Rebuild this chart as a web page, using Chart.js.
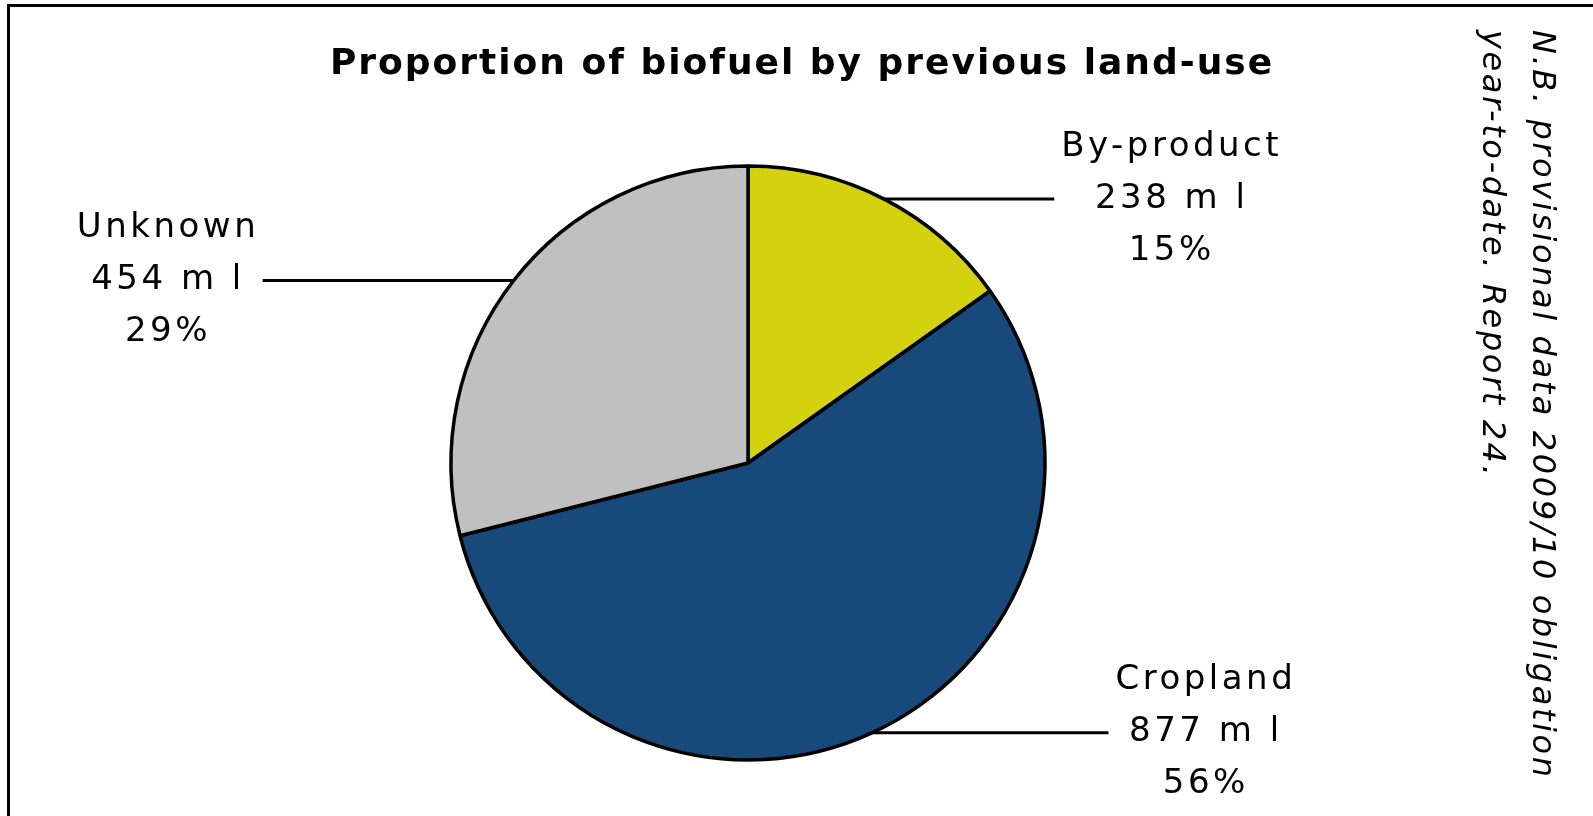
<!DOCTYPE html>
<html>
<head>
<meta charset="utf-8">
<title>Proportion of biofuel by previous land-use</title>
<script src="https://cdn.jsdelivr.net/npm/chart.js@4.4.1/dist/chart.umd.min.js"></script>
<style>
    html, body { margin: 0; padding: 0; background: #fff; overflow: hidden; }
    #wrap { position: relative; width: 1593px; height: 816px; }
    #frame {
        position: absolute; left: 7px; top: 4px; right: 0; bottom: 0;
        border-top: 3px solid #000; border-left: 3px solid #000;
        pointer-events: none;
    }
</style>
</head>
<body>
<div id="wrap">
    <canvas id="landUseChart" width="1593" height="816"></canvas>
    <div id="frame"></div>
</div>
<script>
// ======= Data =======
const categories = ['By-product', 'Cropland', 'Unknown'];
const volumes = [238, 877, 454];          // million litres
const sliceColors = ['#d4d10e', '#174a7a', '#c0c0c0'];
const chartTitle = 'Proportion of biofuel by previous land-use';
const noteLines = ['N.B. provisional data 2009/10 obligation', 'year-to-date. Report 24.'];

const total = volumes.reduce((a, b) => a + b, 0);
const percents = volumes.map(v => Math.round(v / total * 100));

// ======= Labels with leader lines, title, side note =======
const annotations = {
    id: 'annotations',
    afterDraw(chart, args, opts) {
        const ctx = chart.ctx;
        const meta = chart.getDatasetMeta(0);

        ctx.save();
        ctx.fillStyle = '#000';
        ctx.strokeStyle = '#000';

        // title
        ctx.font = opts.titleFont;
        ctx.letterSpacing = opts.titleSpacing + 'px';
        ctx.textAlign = 'center';
        ctx.textBaseline = 'middle';
        ctx.fillText(chartTitle, opts.titleX, opts.titleY);

        // slice labels
        ctx.font = opts.labelFont;
        ctx.letterSpacing = opts.labelSpacing + 'px';
        meta.data.forEach((arc, i) => {
            const p = arc.getProps(['x', 'y', 'startAngle', 'endAngle', 'outerRadius'], true);
            const mid = (p.startAngle + p.endAngle) / 2;
            const px = p.x + Math.cos(mid) * p.outerRadius;
            const py = p.y + Math.sin(mid) * p.outerRadius;
            const side = Math.cos(mid) >= 0 ? 1 : -1;
            const ex = px + side * opts.leaderLengths[i];

            ctx.lineWidth = 3;
            ctx.beginPath();
            ctx.moveTo(px, py);
            ctx.lineTo(ex, py);
            ctx.stroke();

            const lines = [categories[i], volumes[i] + ' m l', percents[i] + '%'];
            // trailing letter spacing is not part of the visible text
            const w = Math.max(...lines.map(t => ctx.measureText(t).width)) - opts.labelSpacing;
            const cx = ex + side * (opts.labelGap + w / 2) + opts.labelSpacing / 2;
            lines.forEach((t, k) => {
                ctx.fillText(t, cx, py + (k - 1) * opts.lineHeight);
            });
        });

        // rotated note on the right
        ctx.font = opts.noteFont;
        ctx.letterSpacing = opts.noteSpacing + 'px';
        ctx.textAlign = 'left';
        noteLines.forEach((t, k) => {
            ctx.save();
            ctx.translate(opts.noteX - k * opts.noteLineGap, opts.noteY);
            ctx.rotate(Math.PI / 2);
            ctx.fillText(t, 0, 0);
            ctx.restore();
        });
        ctx.restore();
    }
};

const ctx = document.getElementById('landUseChart').getContext('2d');
new Chart(ctx, {
    type: 'pie',
    data: {
        labels: categories,
        datasets: [{
            data: volumes,
            backgroundColor: sliceColors,
            borderColor: '#000',
            borderWidth: 3.5,
            radius: 297
        }]
    },
    options: {
        responsive: false,
        animation: false,
        layout: { padding: { left: 0, right: 97, top: 110, bottom: 0 } },
        plugins: {
            legend: { display: false },
            tooltip: { enabled: false },
            annotations: {
                titleFont: 'bold 36px "DejaVu Sans", sans-serif',
                titleSpacing: 2,
                titleX: 802,
                titleY: 65,
                labelFont: '34px "DejaVu Sans", sans-serif',
                labelSpacing: 3.5,
                lineHeight: 52,
                leaderLengths: [170, 236, 251],
                labelGap: 7,
                noteFont: 'italic 32px "DejaVu Sans", sans-serif',
                noteSpacing: 2.6,
                noteX: 1541,
                noteY: 30,
                noteLineGap: 50
            }
        }
    },
    plugins: [annotations]
});
</script>
</body>
</html>
